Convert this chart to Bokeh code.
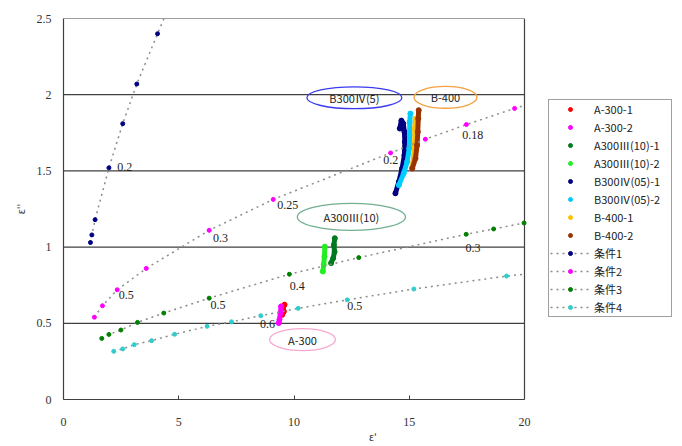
from bokeh.plotting import figure
from bokeh.models import Range1d, FixedTicker, CustomJSTickFormatter, Legend, LegendItem
from bokeh.core.properties import value
from bokeh.embed import file_html
from bokeh.resources import INLINE

# ---------------- data ----------------
# reference conditions (dotted lines with markers)
c1_x = [1.17, 1.23, 1.37, 1.97, 2.57, 3.18, 4.08]
c1_y = [1.03, 1.08, 1.18, 1.52, 1.81, 2.07, 2.40]
c2_x = [1.34, 1.69, 2.33, 3.59, 6.32, 9.10, 14.19, 15.70, 17.48, 19.57]
c2_y = [0.54, 0.615, 0.72, 0.86, 1.11, 1.313, 1.618, 1.708, 1.804, 1.91]
c3_x = [1.66, 1.97, 2.49, 3.21, 4.35, 6.32, 9.80, 12.81, 17.47, 18.66, 19.98]
c3_y = [0.401, 0.427, 0.456, 0.506, 0.567, 0.665, 0.822, 0.931, 1.084, 1.119, 1.158]
c4_x = [2.18, 2.57, 3.07, 3.82, 4.82, 6.23, 7.29, 8.56, 10.18, 12.31, 15.20, 19.22]
c4_y = [0.316, 0.332, 0.36, 0.386, 0.428, 0.48, 0.51, 0.55, 0.598, 0.654, 0.725, 0.81]
# line tails continuing to the plot edge
c1_tail = (4.50, 2.55)
c2_tail = (20.0, 1.93)
c4_tail = (20.0, 0.822)

# measured samples
a300_1_x = [9.49, 9.56, 9.52, 9.59]
a300_1_y = [0.556, 0.578, 0.600, 0.622]
a300_2_x = [9.34, 9.37, 9.41, 9.44]
a300_2_y = [0.502, 0.524, 0.567, 0.611]
a3_1_x = [11.61, 11.70, 11.76, 11.73, 11.77]
a3_1_y = [0.895, 0.927, 0.970, 1.014, 1.058]
a3_2_x = [11.25, 11.29, 11.32, 11.34]
a3_2_y = [0.840, 0.884, 0.938, 1.003]
b3_1_x = [14.40, 14.55, 14.69, 14.79, 14.81, 14.79, 14.74, 14.66, 14.59]
b3_1_y = [1.353, 1.429, 1.516, 1.603, 1.690, 1.756, 1.810, 1.830, 1.778]
b3_2_x = [14.55, 14.76, 14.91, 15.00, 15.02, 15.02, 15.05]
b3_2_y = [1.407, 1.484, 1.560, 1.647, 1.734, 1.821, 1.876]
b4_1_x = [15.13, 15.20, 15.24, 15.24, 15.27]
b4_1_y = [1.527, 1.603, 1.690, 1.778, 1.843]
b4_2_x = [15.13, 15.27, 15.34, 15.37, 15.39, 15.41]
b4_2_y = [1.516, 1.582, 1.669, 1.756, 1.843, 1.898]

# frequency labels along the condition lines
lab_text = ["0.2", "0.5", "0.3", "0.25", "0.2", "0.18", "0.5", "0.4", "0.3", "0.6", "0.5"]
lab_x = [2.33, 2.40, 6.49, 9.27, 13.87, 17.30, 6.38, 9.82, 17.44, 8.52, 12.31]
lab_y = [1.527, 0.683, 1.058, 1.276, 1.571, 1.734, 0.622, 0.748, 0.993, 0.497, 0.611]

# group annotations (ellipses)
grp_text = ["B300Ⅳ(5)", "B-400", "A300Ⅲ(10)", "A-300"]
grp_x = [12.62, 16.57, 12.49, 10.37]
grp_y = [1.98, 1.983, 1.198, 0.393]
grp_w = [4.12, 2.73, 4.69, 2.86]
grp_h = [0.144, 0.144, 0.177, 0.144]
grp_col = ["#3A3AF0", "#F5A040", "#70B090", "#F7A8D0"]

x_ticks = [0, 5, 10, 15, 20]
y_ticks = [0, 0.5, 1, 1.5, 2, 2.5]
X_MAX = 20
Y_MAX = 2.5

FONT = "Noto Sans CJK JP"
TICKFONT = "Liberation Sans Narrow"

# the frame is widened to hold the legend; the visible plot box ends at X_MAX
FRAME_L, FRAME_R_PLOT, FIG_W, FIG_H = 63, 524, 682, 446
x_end = X_MAX * (FIG_W - FRAME_L) / (FRAME_R_PLOT - FRAME_L)

p = figure(width=FIG_W, height=FIG_H, x_range=Range1d(0, x_end), y_range=Range1d(0, Y_MAX),
           output_backend="svg", toolbar_location=None,
           min_border_left=FRAME_L, min_border_right=0, min_border_top=18, min_border_bottom=46)
p.background_fill_color = "white"
p.border_fill_color = "white"
p.outline_line_color = None

p.xgrid.visible = False
p.ygrid.visible = False
# horizontal grid lines + top/right box edges, limited to the plot box
grid_y = y_ticks[1:]
p.segment(x0=[0] * len(grid_y), y0=grid_y, x1=[X_MAX] * len(grid_y), y1=grid_y,
          line_color="#404040", line_width=1.2)
p.segment(x0=[X_MAX], y0=[0], x1=[X_MAX], y1=[Y_MAX], line_color="#404040", line_width=1.2)

p.xaxis.ticker = FixedTicker(ticks=x_ticks)
p.yaxis.ticker = FixedTicker(ticks=y_ticks)
p.xaxis.bounds = (0, X_MAX)
p.xaxis.formatter = CustomJSTickFormatter(code="return String(tick)")
p.yaxis.formatter = CustomJSTickFormatter(code="return String(tick)")
for ax in (p.xaxis[0], p.yaxis[0]):
    ax.axis_line_color = "#404040"
    ax.axis_line_width = 1.2
    ax.minor_tick_line_color = None
    ax.major_label_text_font = TICKFONT
    ax.major_label_text_font_size = "12px"
    ax.major_label_text_color = "#333333"
    ax.axis_label_text_font = FONT
    ax.axis_label_text_font_style = "normal"
    ax.axis_label_text_font_size = "10px"
    ax.axis_label_text_color = "#333333"
p.xaxis.major_tick_in = 4
p.xaxis.major_tick_out = 0
p.xaxis.major_tick_line_color = "#404040"
p.xaxis.major_label_standoff = 18
p.xaxis.axis_label = "ε'"
p.xaxis.axis_label_standoff = 0
p.yaxis.major_tick_in = 0
p.yaxis.major_tick_out = 0
p.yaxis.major_label_standoff = 12
p.yaxis.axis_label = "ε''"
p.yaxis.axis_label_standoff = 6

items = []

def sample(xs, ys, color, label):
    p.line(xs, ys, line_color=color, line_width=5, line_cap="round", line_join="round")
    r = p.scatter(xs, ys, size=5, marker="circle", fill_color=color, line_color=color)
    items.append(LegendItem(label=label, renderers=[r]))

sample(a300_1_x, a300_1_y, "#FF0000", "A-300-1")
sample(a300_2_x, a300_2_y, "#FF00FF", "A-300-2")
sample(a3_1_x, a3_1_y, "#007A1E", "A300Ⅲ(10)-1")
sample(a3_2_x, a3_2_y, "#22EE22", "A300Ⅲ(10)-2")
sample(b3_1_x, b3_1_y, "#000080", "B300Ⅳ(05)-1")
sample(b3_2_x, b3_2_y, "#00CCFF", "B300Ⅳ(05)-2")
sample(b4_1_x, b4_1_y, "#FFC000", "B-400-1")
sample(b4_2_x, b4_2_y, "#993300", "B-400-2")

def cond(xs, ys, tail, color, label):
    lx = list(xs) + ([tail[0]] if tail else [])
    ly = list(ys) + ([tail[1]] if tail else [])
    ln = p.line(lx, ly, line_color="#8C8C8C", line_width=1.5, line_dash="2 4")
    sc = p.scatter(xs, ys, size=4, marker="circle", fill_color=color, line_color=color)
    items.append(LegendItem(label=label, renderers=[ln, sc]))

cond(c1_x, c1_y, c1_tail, "#000080", "条件1")
cond(c2_x, c2_y, c2_tail, "#FF00FF", "条件2")
cond(c3_x, c3_y, None, "#008000", "条件3")
cond(c4_x, c4_y, c4_tail, "#33CCCC", "条件4")

p.text(lab_x, lab_y, text=lab_text, text_font=value(TICKFONT), text_font_size="12px",
       text_color="#222222", text_align="left", text_baseline="middle")

p.ellipse(grp_x, grp_y, width=grp_w, height=grp_h, fill_color=None,
          line_color=grp_col, line_width=1.3)
p.text(grp_x, grp_y, text=grp_text, text_font=value(FONT), text_font_size="11px",
       text_color="#222222", text_align="center", text_baseline="middle")

legend = Legend(items=items, location=(485, 82))
legend.border_line_color = "#404040"
legend.border_line_width = 1.2
legend.background_fill_color = "white"
legend.background_fill_alpha = 1.0
legend.label_text_font = FONT
legend.label_text_font_size = "11px"
legend.label_text_color = "#222222"
legend.glyph_width = 40
legend.glyph_height = 10
legend.label_height = 16
legend.label_width = 76
legend.label_standoff = 4
legend.spacing = 2
legend.padding = 1
legend.margin = 0
p.add_layout(legend, "center")

open("out.html", "w").write(file_html(p, INLINE))
